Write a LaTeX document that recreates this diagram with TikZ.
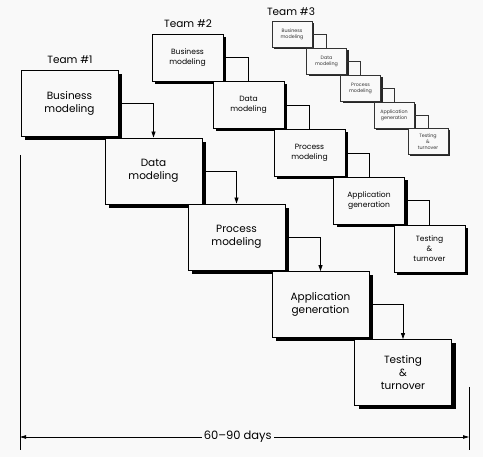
\documentclass[tikz,border=0pt]{standalone}
\usepackage{fontspec}
\setmainfont{Poppins}
\usetikzlibrary{shadows,arrows.meta}
\definecolor{paper}{gray}{0.975}
\begin{document}
\begin{tikzpicture}[x=1pt,y=-1pt,
  boxA/.style={draw=black,line width=0.9pt,fill=paper,minimum width=97pt,minimum height=66pt,
    align=center,inner sep=0pt,font=\fontsize{10.5}{13}\selectfont,
    general shadow={fill=black,shadow xshift=4pt,shadow yshift=-4pt}},
  boxB/.style={draw=black,line width=0.8pt,fill=paper,minimum width=71pt,minimum height=47pt,
    align=center,inner sep=0pt,font=\fontsize{7.6}{10}\selectfont,
    general shadow={fill=black,shadow xshift=3pt,shadow yshift=-3pt}},
  boxC/.style={draw=black!80,line width=0.6pt,fill=paper,minimum width=40pt,minimum height=26pt,
    align=center,inner sep=0pt,font=\fontsize{4.8}{6}\selectfont,text=black!80,
    general shadow={fill=black!85,shadow xshift=2pt,shadow yshift=-2pt}},
  conA/.style={draw=black,line width=0.8pt,-{Triangle[length=6pt,width=4pt]}},
  conB/.style={draw=black,line width=0.8pt},
  conC/.style={draw=black!80,line width=0.6pt},
  teamlbl/.style={font=\fontsize{10.5}{12}\selectfont,inner sep=0pt}
]
\useasboundingbox[fill=paper] (0,0) rectangle (483,457);
% Team 3
\node[teamlbl] (t3) at (291,12) {Team \#3};
\node[boxC] (B3) at (292,34) {Business\\modeling};
\node[boxC] (D3) at (326.5,61) {Data\\modeling};
\node[boxC] (P3) at (360.5,88) {Process\\modeling};
\node[boxC] (A3) at (394,115) {Application\\generation};
\node[boxC] (T3) at (428,141.5) {Testing\\\&\\turnover};
\draw[conC] (B3.east) -| (D3.north);
\draw[conC] (D3.east) -| (P3.north);
\draw[conC] (P3.east) -| (A3.north);
\draw[conC] (A3.east) -| (T3.north);
% Team 2
\node[teamlbl] (t2) at (188,24) {Team \#2};
\node[boxB] (B2) at (187.5,57.5) {Business\\modeling};
\node[boxB] (D2) at (248.5,105) {Data\\modeling};
\node[boxB] (P2) at (309.5,153) {Process\\modeling};
\node[boxB] (A2) at (369,200.5) {Application\\generation};
\node[boxB] (T2) at (429.5,248.5) {Testing\\\&\\turnover};
\draw[conB] (B2.east) -| (D2.north);
\draw[conB] (D2.east) -| (P2.north);
\draw[conB] (P2.east) -| (A2.north);
\draw[conB] (A2.east) -| (T2.north);
% Team 1
\node[teamlbl] (t1) at (70,60) {Team \#1};
\node[boxA] (B1) at (69.5,103) {Business\\modeling};
\node[boxA] (D1) at (153.5,171) {Data\\modeling};
\node[boxA] (P1) at (236.5,237) {Process\\modeling};
\node[boxA] (A1) at (320.5,304.5) {Application\\generation};
\node[boxA] (T1) at (403,372.5) {Testing\\\&\\turnover};
\draw[conA] (B1.east) -| (D1.north);
\draw[conA] (D1.east) -| (P1.north);
\draw[conA] (P1.east) -| (A1.north);
\draw[conA] (A1.east) -| (T1.north);
% dimension
\coordinate (l1) at (20,155);
\coordinate (l2) at (20,450);
\coordinate (r1) at (469,387);
\coordinate (r2) at (469,450);
\coordinate (al) at (20,437);
\coordinate (ar) at (469,437);
\draw[line width=1pt] (l1) -- (l2);
\draw[line width=1pt] (r1) -- (r2);
\draw[line width=0.8pt,{Triangle[length=6pt,width=3.5pt]}-{Triangle[length=6pt,width=3.5pt]}] (al) -- (ar)
  node[pos=0.485,fill=paper,inner sep=2pt,font=\fontsize{11.5}{13}\selectfont] (dl) {60--90 days};
\end{tikzpicture}
\end{document}
